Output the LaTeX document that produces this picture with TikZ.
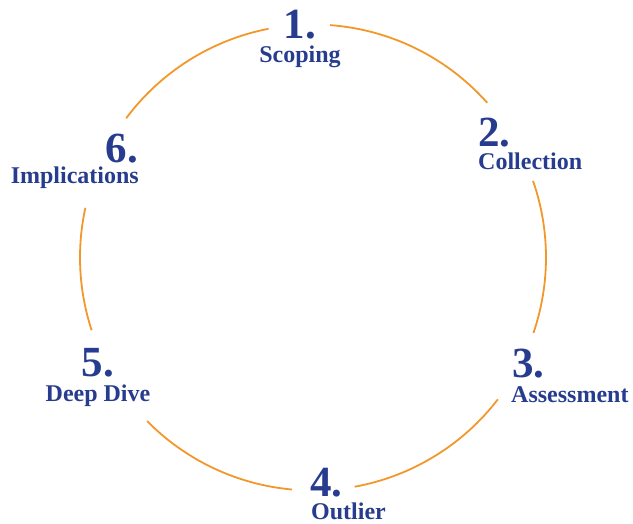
\documentclass[tikz,border=0pt]{standalone}
\usepackage{fontspec}
\setmainfont{Liberation Serif}
\definecolor{stepblue}{HTML}{273C8E}
\definecolor{ringorange}{HTML}{F2972A}
\begin{document}
\begin{tikzpicture}[x=1pt,y=1pt,
  num/.style={inner sep=0pt,text=stepblue,font=\fontsize{43}{43}\selectfont\bfseries},
  lab/.style={inner sep=0pt,text=stepblue,font=\fontsize{24}{24}\selectfont\bfseries},
  ring/.style={draw=ringorange,line width=1.8pt}]
\useasboundingbox (0,0) rectangle (633,524);
\coordinate (c) at (313,266.5);
\foreach \a/\b in {101/143.3,167.7/198.2,224.6/264.8,280.3/322.5,341.1/379.2,41.6/85.8}{
  \draw[ring] (c) ++(\a:233) arc[start angle=\a,end angle=\b,radius=233];
}
% 1
\node[num,anchor=base] (n1) at (300,524-39) {1.};
\node[lab,anchor=base] (l1) at (300,524-63) {Scoping};
% 2
\node[num,anchor=base west] (n2) at (478,524-147) {2.};
\node[lab,anchor=base west] (l2) at (478,524-170) {Collection};
% 3
\node[num,anchor=base west] (n3) at (512,524-378) {3.};
\node[lab,anchor=base west] (l3) at (511,524-403) {Assessment};
% 4
\node[num,anchor=base west] (n4) at (310,524-497) {4.};
\node[lab,anchor=base west] (l4) at (311,524-520) {Outlier};
% 5
\node[num,anchor=base] (n5) at (98,524-377) {5.};
\node[lab,anchor=base] (l5) at (98,524-402) {Deep Dive};
% 6
\node[num,anchor=base east] (n6) at (138,524-163) {6.};
\node[lab,anchor=base east] (l6) at (139,524-184) {Implications};
\end{tikzpicture}
\end{document}
